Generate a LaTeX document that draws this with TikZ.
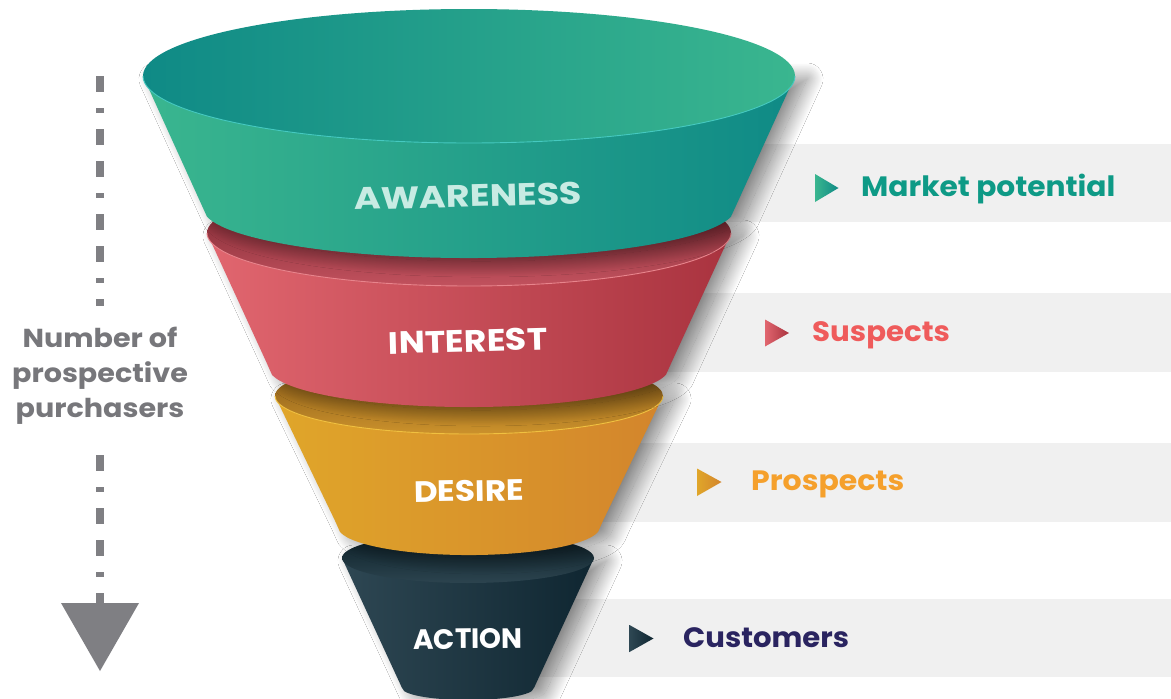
\documentclass[tikz,border=0pt]{standalone}
\usepackage{fontspec}
\setmainfont{Poppins}
\usetikzlibrary{shadows.blur}
\definecolor{gband}{HTML}{F0F0F0}
\definecolor{tealD}{HTML}{0F8A86}
\definecolor{tealL}{HTML}{3AB68F}
\definecolor{redL}{HTML}{E1666F}
\definecolor{redD}{HTML}{A9333F}
\definecolor{goldL}{HTML}{E0A62A}
\definecolor{goldD}{HTML}{D3852C}
\definecolor{slateL}{HTML}{2E4753}
\definecolor{slateD}{HTML}{0F2631}
\definecolor{arrowgray}{HTML}{7F7F83}
\definecolor{txtgray}{HTML}{77777B}
\definecolor{mkt}{HTML}{0E9A86}
\definecolor{susp}{HTML}{EF5B5B}
\definecolor{prosp}{HTML}{F5A02C}
\definecolor{cust}{HTML}{2A2460}
\definecolor{awtext}{HTML}{C8EBE3}
\definecolor{acInTop}{HTML}{0B1E26}
\definecolor{acInBot}{HTML}{2C444F}
\definecolor{deInTop}{HTML}{7A5014}
\definecolor{deInBot}{HTML}{CC922C}
\definecolor{deRim}{HTML}{F0C040}
\definecolor{inInTop}{HTML}{6A1C26}
\definecolor{inInBot}{HTML}{C2525E}
\definecolor{inRim}{HTML}{E8848C}
\definecolor{awRim}{HTML}{45C9C0}
\tikzset{
  band/.style={fill=gband},
  sidesh/.style={blur shadow={shadow xshift=12pt,shadow yshift=-3pt,shadow blur radius=16pt,shadow opacity=50,shadow blur steps=40}},
  rim/.style={line width=0.9pt},
  funlbl/.style={text=white, inner sep=0pt},
  sidelbl/.style={font=\bfseries\fontsize{28}{30}\selectfont, anchor=base west, inner sep=0pt},
  numtext/.style={font=\bfseries\fontsize{26}{35}\selectfont, text=txtgray, align=center, inner sep=0pt},
  dashline/.style={draw=arrowgray, line width=8pt, dash pattern=on 16pt off 16pt on 5pt off 16pt on 16pt off 16pt}
}
\newcommand\wide[2]{\scalebox{#1}[1]{#2}}
\begin{document}
\begin{tikzpicture}[x=1pt,y=-1pt]
\useasboundingbox (0,0) rectangle (1171,699);
\fill[white] (0,0) rectangle (1171,699);
% bands
\fill[band] (540,144) rectangle (1171,222);
\fill[band] (540,293) rectangle (1171,372);
\fill[band] (540,443) rectangle (1171,522);
\fill[band] (540,599) rectangle (1171,677);
% ACTION
\path[sidesh, left color=slateL, right color=slateD] (342,558) -- (399.5,682.5) .. controls (402,688) .. (404.2,691.1) arc[start angle=165,end angle=15,x radius=66,y radius=12] .. controls (534,688) .. (536.5,682.5) -- (594,558) -- cycle;
\path[top color=acInTop, bottom color=acInBot] (468,558) ellipse[x radius=126,y radius=25];
% DESIRE
\path[sidesh, left color=goldL, right color=goldD] (275,396) -- (335,520.7) .. controls (338,527) .. (340,531.9) arc[start angle=170,end angle=10,x radius=131,y radius=28] .. controls (600,527) .. (603,520.7) -- (663,396) -- cycle;
\path[top color=deInTop, bottom color=deInBot] (469,396) ellipse[x radius=194,y radius=38];
\draw[rim, color=deRim] (275,396) arc[start angle=180,end angle=0,x radius=194,y radius=38];
% INTEREST
\path[sidesh, left color=redL, right color=redD] (207,233) -- (265.7,360.7) .. controls (269,368) .. (272,374.8) arc[start angle=170,end angle=10,x radius=200,y radius=39] .. controls (669,368) .. (672.3,360.7) -- (731,233) -- cycle;
\path[top color=inInTop, bottom color=inInBot] (469,233) ellipse[x radius=262,y radius=53];
\draw[rim, color=inRim] (207,233) arc[start angle=180,end angle=0,x radius=262,y radius=53];
% AWARENESS
\path[sidesh, left color=tealL, right color=tealD] (143,76) -- (198.9,198.9) .. controls (203,208) .. (207,216.7) arc[start angle=170,end angle=10,x radius=266,y radius=50] .. controls (735,208) .. (739.1,198.9) -- (795,76) -- cycle;
\path[left color=tealD, right color=tealL] (469,76) ellipse[x radius=326,y radius=67];
\draw[rim, color=awRim] (143,76) arc[start angle=180,end angle=0,x radius=326,y radius=67];
% funnel labels
\node[funlbl, text=awtext, rotate=1.5, font=\bfseries\fontsize{31}{33}\selectfont] (lblA) at (468,196) {\wide{1.18}{AWARENESS}};
\node[funlbl, rotate=1.5, font=\bfseries\fontsize{31}{33}\selectfont] (lblI) at (468,341) {\wide{1.12}{INTEREST}};
\node[funlbl, rotate=1, font=\bfseries\fontsize{29.5}{31}\selectfont] (lblD) at (469,491) {\wide{1.11}{DESIRE}};
\node[funlbl, rotate=0.5, font=\bfseries\fontsize{28}{30}\selectfont] (lblC) at (468,639) {ACTION};
% side markers and labels
\shade[left color=tealL, right color=tealD] (815,174) -- (838.5,188) -- (815,202) -- cycle;
\node[sidelbl, text=mkt] (mkt) at (861,196.7) {\wide{1.06}{Market potential}};
\shade[left color=redL, right color=redD] (765,319.5) -- (789,333) -- (765,346.5) -- cycle;
\node[sidelbl, text=susp] (sus) at (812,341.7) {\wide{1.045}{Suspects}};
\shade[left color=goldL, right color=goldD] (697,468.5) -- (721.5,482) -- (697,496) -- cycle;
\node[sidelbl, text=prosp] (pro) at (751,490.7) {\wide{1.07}{Prospects}};
\shade[left color=slateL, right color=slateD] (629.5,625) -- (653.5,638.5) -- (629.5,652) -- cycle;
\node[sidelbl, text=cust] (cus) at (683,647.7) {\wide{1.04}{Customers}};
% left arrow
\coordinate (atop) at (100,76);
\coordinate (amid1) at (100,306);
\node[numtext] (num) at (100,376) {\wide{1.1}{Number of}\\\wide{1.1}{prospective}\\\wide{1.1}{purchasers}};
\coordinate (amid2) at (100,455);
\coordinate (abot) at (100,604);
\draw[dashline] (atop) -- (amid1);
\draw[dashline] (amid2) -- (abot);
\fill[arrowgray] (abot) ++(-39,-1) -- ++(78,0) -- ++(-39,68) -- cycle;
\end{tikzpicture}
\end{document}
